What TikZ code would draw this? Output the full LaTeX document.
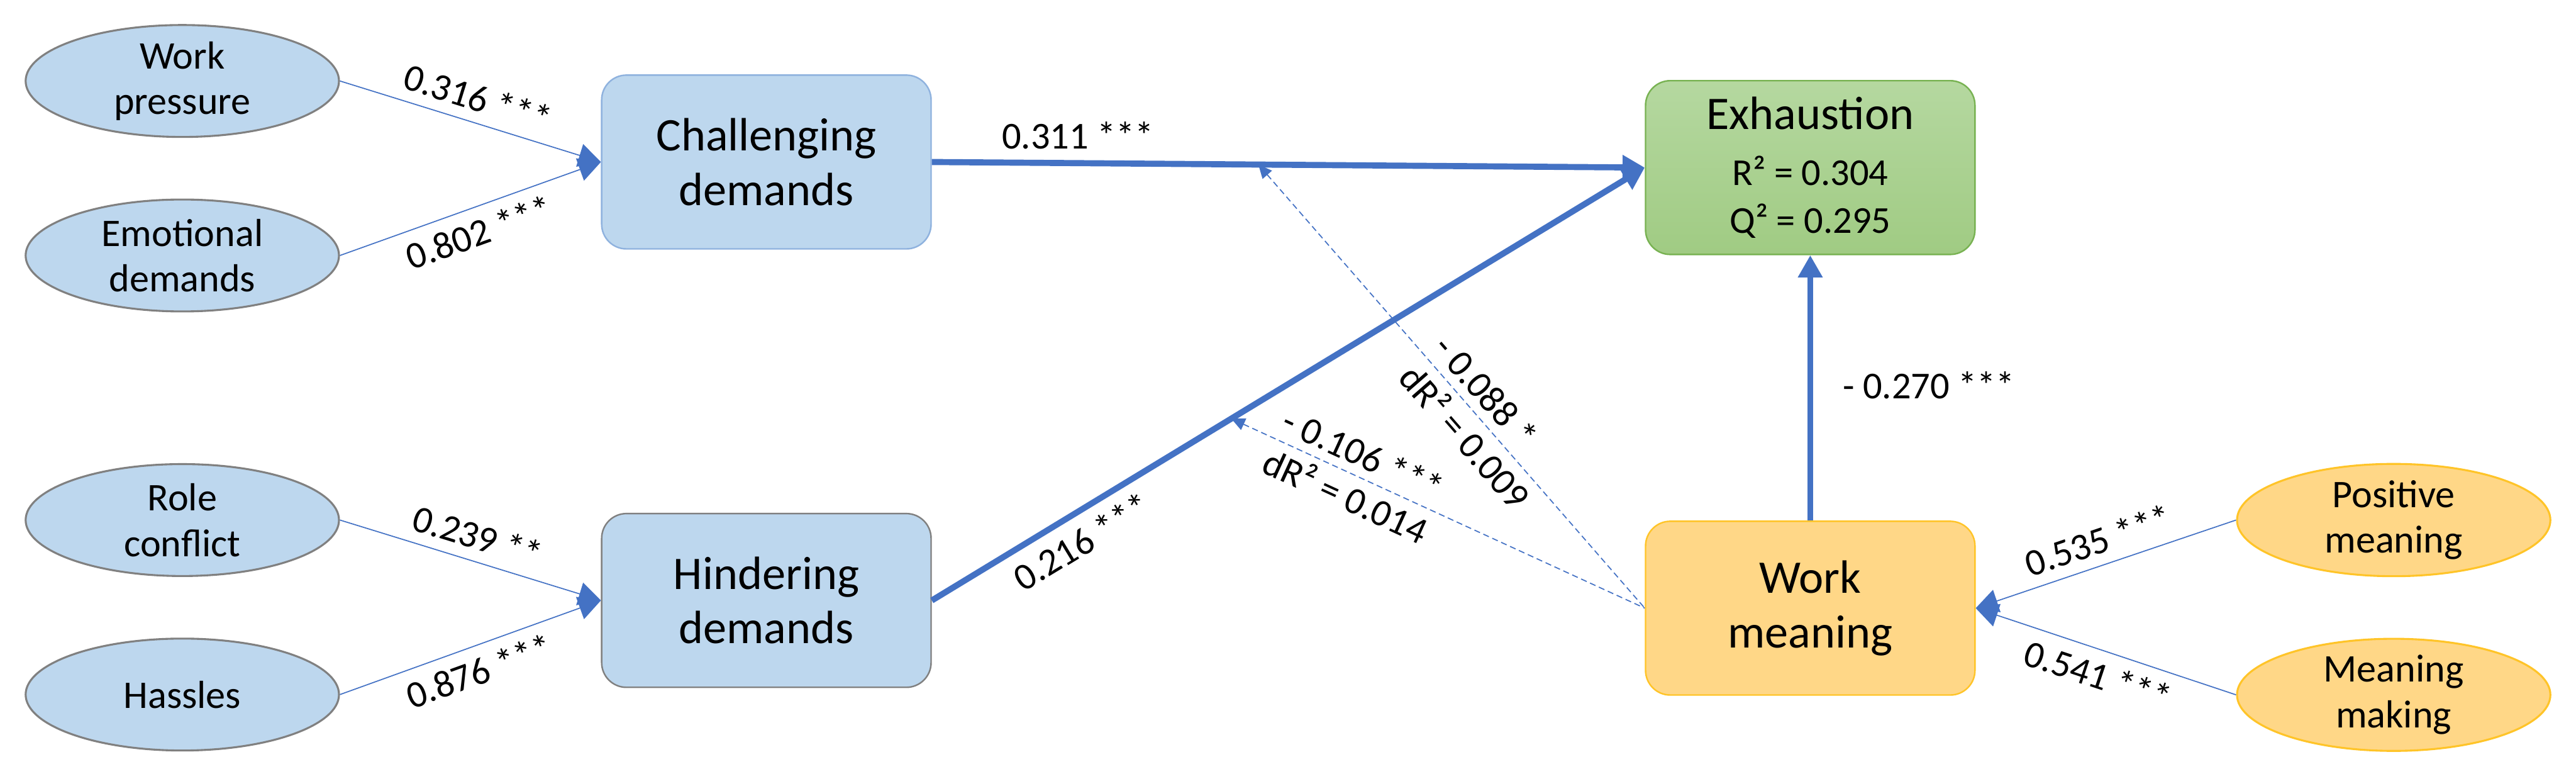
\documentclass[tikz,border=0pt]{standalone}
\usepackage{fontspec}
\setmainfont{Carlito}
\usetikzlibrary{arrows.meta, positioning, shapes.geometric}
\definecolor{fillblue}{RGB}{189,215,238}
\definecolor{edgegray}{RGB}{128,128,128}
\definecolor{edgeblue}{RGB}{143,178,222}
\definecolor{greentop}{RGB}{181,216,160}
\definecolor{greenbot}{RGB}{160,203,131}
\definecolor{edgegreen}{RGB}{120,178,82}
\definecolor{fillgold}{RGB}{255,215,135}
\definecolor{edgegold}{RGB}{255,196,40}
\definecolor{arrowblue}{RGB}{68,114,196}
\newcommand{\statfont}{\fontsize{17.5}{21}\selectfont}

\begin{document}
\begin{tikzpicture}[
  box/.style={draw, rounded corners=0.4cm, align=center, minimum width=5.33cm,
              minimum height=2.81cm, line width=0.7pt, font=\fontsize{21.5}{25}\selectfont},
  oval/.style={ellipse, draw=edgegray, fill=fillblue, line width=0.9pt, inner sep=0pt,
               minimum width=5.07cm, minimum height=1.81cm, align=center,
               font=\fontsize{18}{21}\selectfont},
  lbl/.style={font=\fontsize{17.5}{21}\selectfont, text=black, inner sep=5pt},
  wt/.tip={Triangle[length=0.36cm, width=0.38cm]},
  mt/.tip={Triangle[length=0.22cm, width=0.2cm]},
  thin/.style={arrowblue, line width=0.5pt},
  thick/.style={arrowblue, line width=2.8pt, -wt},
  mod/.style={arrowblue, line width=0.5pt, dash pattern=on 2.8pt off 1.7pt, mt-}]
\useasboundingbox (0,0) rectangle (41.68,12.51);

% demands and their indicators
\node[oval] (wp) at (2.95,11.20) {Work\\pressure};
\node[oval, below=0.98cm of wp] (ed) {Emotional\\demands};
\node[oval] (rc) at (2.95,4.10) {Role\\conflict};
\node[oval, below=0.98cm of rc] (ha) {Hassles};
\node[box, draw=edgeblue, fill=fillblue] (cd) at (12.40,9.89) {Challenging\\demands};
\node[box, draw=edgegray, fill=fillblue] (hd) at (12.40,2.80) {Hindering\\demands};

% outcome and moderator
\node[box, draw=edgegreen, top color=greentop, bottom color=greenbot] (ex) at (29.29,9.80)
  {Exhaustion\\[1pt]{\statfont R² = 0.304}\\[-3pt]{\statfont Q² = 0.295}};
\node[box, draw=edgegold, fill=fillgold, below=4.29cm of ex] (wm) {Work\\meaning};
\node[oval, draw=edgegold, fill=fillgold] (pm) at (38.73,4.10) {Positive\\meaning};
\node[oval, draw=edgegold, fill=fillgold, below=0.98cm of pm] (mm) {Meaning\\making};

% loadings
\draw[thin, -wt] (wp.east) -- node[lbl, sloped, above] {0.316 ***} (cd.west);
\draw[thin, -wt] (ed.east) -- node[lbl, sloped, below] {0.802 ***} (cd.west);
\draw[thin, -wt] (rc.east) -- node[lbl, sloped, above] {0.239 **} (hd.west);
\draw[thin, -wt] (ha.east) -- node[lbl, sloped, below] {0.876 ***} (hd.west);
\draw[thin, wt-] (wm.east) -- node[lbl, sloped, above] {0.535 ***} (pm.west);
\draw[thin, wt-] (wm.east) -- node[lbl, sloped, below] {0.541 ***} (mm.west);

% paths
\draw[thick] (cd.east) -- node[lbl, pos=0.205, above] {0.311 ***}
  coordinate[pos=0.458] (m1) (ex.west);
\draw[thick] (hd.east) -- node[lbl, pos=0.19, sloped, below] {0.216 ***}
  coordinate[pos=0.42] (m2) (ex.west);
\draw[thick] (wm.north) -- node[lbl, pos=0.51, right=0.3cm] {- 0.270 ***} (ex.south);

% moderation
\draw[mod] (m1) -- node[lbl, pos=0.58, sloped, align=left, inner sep=0pt]
  {- 0.088 *\\dR² = 0.009} (wm.west);
\draw[mod] (m2) -- node[lbl, pos=0.30, sloped, align=left, inner sep=0pt]
  {- 0.106 ***\\dR² = 0.014} (wm.west);
\end{tikzpicture}
\end{document}
